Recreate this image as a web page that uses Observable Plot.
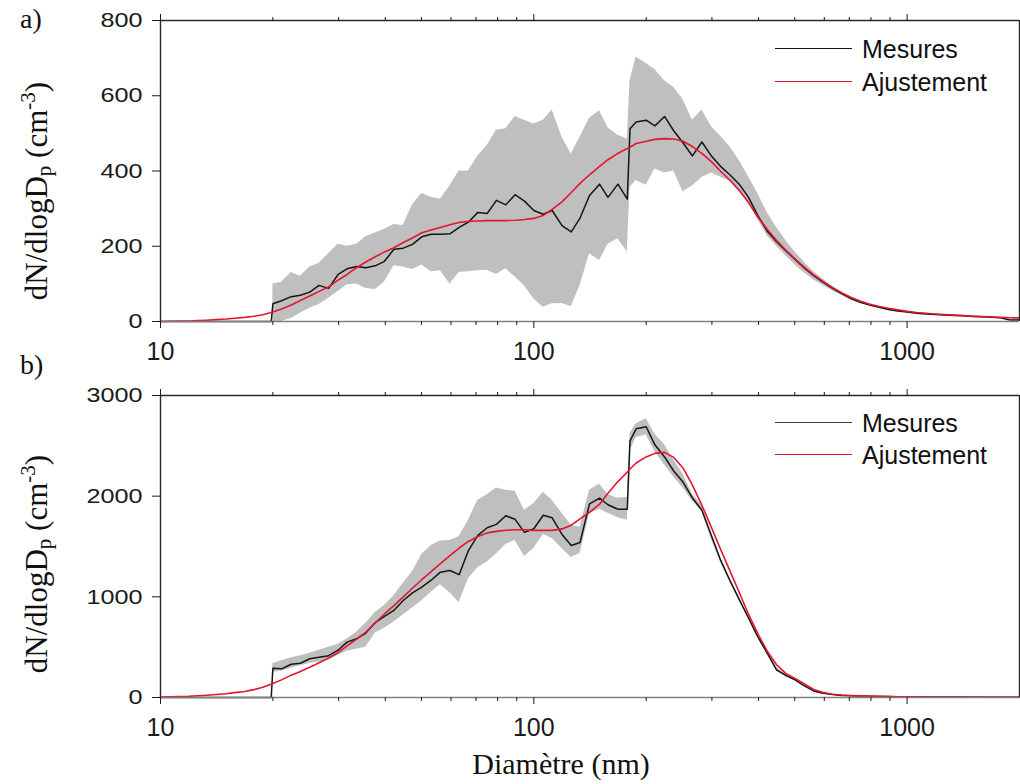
<!DOCTYPE html>
<html><head><meta charset="utf-8">
<script src="https://cdn.jsdelivr.net/npm/d3@7"></script>
<script src="https://cdn.jsdelivr.net/npm/@observablehq/plot@0.6"></script>
<style>
body{margin:0;background:#fff;}
#wrap{position:relative;width:1020px;height:784px;overflow:hidden;background:#fff;}
#wrap svg{position:absolute;left:0;}
.serif{position:absolute;font-family:"Liberation Serif","Times New Roman",serif;color:#111;white-space:nowrap;line-height:1;}
.ylab{font-size:31px;transform:translate(-50%,-50%) rotate(-90deg);}
.ylab sub{font-size:0.68em;vertical-align:-0.22em;line-height:0;}
.ylab sup{font-size:0.68em;vertical-align:0.55em;line-height:0;}
.leg{position:absolute;font-family:"Liberation Sans",Arial,sans-serif;font-size:25px;line-height:1;color:#111;white-space:nowrap;}
.sw{position:absolute;height:0;width:77px;}
</style></head>
<body><div id="wrap"></div>
<script>
// ---------- data ----------
// diameters (nm) of the measured grid
const diam = [20.0,21.1,22.4,23.7,25.1,26.6,28.2,29.9,31.6,33.5,35.5,37.6,39.8,42.2,44.7,47.3,50.1,53.1,56.2,59.6,63.1,66.8,70.8,75.0,79.4,84.1,89.1,94.4,
  100,106,112,119,126,133,141,150,158,168,178,181,188,200,211,224,237,251,266,282,299,316,335,355,376,398,422,447,473,501,531,562,596,631,668,708,750,794,841,891,944,
  1000,1059,1122,1189,1259,1334,1413,1496,1585,1679,1778,1884,1995];
// below the instrument range
const measLowDiam = [10, 19.8];
const measLowVal = [0, 0];
const fitLowDiam = [10,10.6,11.2,11.9,12.6,13.3,14.1,15.0,15.8,16.8,17.8,18.8];

// panel a
const measA = [47,55,66,70,78,96,88,125,140,146,143,148,160,192,195,205,225,232,232,233,250,264,290,287,322,310,337,320,295,285,295,255,238,275,335,365,330,365,325,
  512,530,535,520,545,507,475,440,477,440,413,390,365,330,282,240,212,188,165,142,122,104,88,74,61,51,44,38,32,28,25,22,20,18.5,17,16,15,13.5,12.5,11,10,4,4];
const hiA = [100,104,130,120,145,155,180,205,200,205,225,235,245,258,255,310,340,330,325,360,400,400,440,468,508,512,545,535,525,535,562,490,445,490,540,560,515,495,485,
  640,703,686,670,640,622,590,535,562,518,493,465,428,385,340,290,250,215,185,157,132,112,94,79,66,55,47,41,35,31,27,24,22,20,18.5,17.5,16.5,15,14,12.5,11.5,5,5];
const loA = [0,0,8,22,35,45,62,80,98,100,88,85,105,148,145,138,150,132,135,100,130,132,135,136,125,140,118,95,60,38,47,48,40,95,180,162,205,220,185,
  357,375,362,405,395,400,345,360,383,395,384,372,345,314,272,228,200,175,150,129,110,96,82,69,56,47,41,35,29,25,23,20,18,17,15.5,14.5,13.5,12,11,9.5,8.5,3,3];
const fitLowA = [0,0.5,1,1.5,2.5,3.5,5,6.5,8.5,11,14,18];
const fitA = [25,33,44,56,68,80,92,110,125,143,158,172,185,196,210,222,236,243,250,257,263,266,267,268,268,268,269,271,274,282,298,318,343,367,390,412,430,447,460,
  463,473,479,484,486,485,479,465,447,425,400,376,349,316,278,245,215,190,166,144,124,106,90,76,64,54,46,40,35,31,27,24,22,20,18.5,17,15.5,14,13,12,11,10,9.5];

// panel b
const measB = [290,285,330,340,385,400,415,470,550,583,640,745,805,866,964,1040,1096,1165,1245,1262,1220,1460,1610,1686,1720,1805,1770,1640,1676,1810,1785,1620,1510,1540,1924,1980,1915,1870,1870,
  2550,2669,2690,2510,2390,2250,2140,1982,1860,1610,1370,1165,975,790,605,440,275,220,175,115,65,42,30,21,18,15,12,10,9,8,7,6,5.5,5,4.5,4,4,3.5,3.5,3,3,3,3];
const hiB = [335,365,395,415,440,470,500,528,580,648,740,845,915,1010,1135,1250,1420,1510,1555,1560,1600,1760,1960,2015,2080,2060,2050,1860,1924,2040,1960,1830,1710,1692,2060,2120,2015,1980,1990,
  2620,2720,2770,2615,2510,2360,2220,2020,1910,1630,1390,1185,990,805,625,455,295,235,185,125,72,50,34,25,21,17,14,12,11,10,9,8,7.5,7,6.5,6,6,5.5,5.5,5,5,5,5];
const loB = [250,262,290,315,338,352,370,420,460,480,500,640,688,750,820,890,960,1045,1120,1040,940,1180,1290,1345,1425,1520,1560,1400,1480,1620,1580,1480,1390,1430,1825,1870,1830,1785,1760,
  2450,2580,2610,2440,2310,2190,2080,1950,1850,1570,1350,1145,960,775,590,425,260,205,165,105,58,36,26,18,15,13,10,8,7,6,5,4,3.5,3,2.5,2,2,1.5,1.5,1,1,1,1];
const fitLowB = [4,6,9,12,17,23,30,38,48,60,78,102];
const fitB = [140,175,222,258,300,345,392,445,512,580,650,740,830,912,1000,1085,1170,1250,1330,1410,1485,1550,1600,1635,1650,1662,1666,1666,1660,1660,1660,1675,1712,1775,1840,1920,2030,2145,2240,
  2270,2330,2390,2425,2435,2385,2280,2110,1910,1690,1478,1260,1045,825,635,460,325,240,190,135,80,50,33,25,20,16,13,11,9,8,7,6,5.5,5,4.5,4,4,3.5,3.5,3,3,3,3];

const majorTicks = [10, 100, 1000];
const minorTicks = [20,30,40,50,60,70,80,90,200,300,400,500,600,700,800,900];
const yTicksA = [0, 200, 400, 600, 800];
const yTicksB = [0, 1000, 2000, 3000];
const legendLabels = ["Mesures", "Ajustement"];
const xTitle = "Diamètre (nm)";

// ---------- chart ----------
function panel({yMax, yTicks, meas, hi, lo, fitLow, fit, height, marginTop, marginBottom}) {
  const measData = measLowDiam.map((d, i) => ({d, v: measLowVal[i]}))
    .concat(diam.map((d, i) => ({d, v: meas[i]})));
  const fitData = fitLowDiam.map((d, i) => ({d, v: fitLow[i]}))
    .concat(diam.map((d, i) => ({d, v: fit[i]})));
  const band = diam.map((d, i) => ({d, lo: lo[i], hi: hi[i]}));
  const frame = "#2a2a2a";
  const svg = Plot.plot({
    width: 1020, height, marginTop, marginBottom, marginLeft: 160, marginRight: 1,
    style: {fontFamily: "'Liberation Sans', Arial, sans-serif", fontSize: "25px", background: "transparent", color: "#1a1a1a", overflow: "visible"},
    x: {type: "log", domain: [10, 2000]},
    y: {domain: [0, yMax]},
    marks: [
      Plot.areaY(band, {x: "d", y1: "lo", y2: "hi", fill: "#bfbfbf"}),
      Plot.line(measData, {x: "d", y: "v", stroke: "#151515", strokeWidth: 1.5}),
      Plot.line(fitData, {x: "d", y: "v", stroke: "#e3152f", strokeWidth: 1.6}),
      Plot.ruleY([0], {stroke: "#808080", strokeWidth: 1.4}),
      Plot.ruleY([yMax], {stroke: frame, strokeWidth: 1.4}),
      Plot.ruleX([10], {stroke: frame, strokeWidth: 1.4}),
      Plot.ruleX([2000], {stroke: frame, strokeWidth: 1.4}),
      Plot.axisX(majorTicks, {anchor: "bottom", tickSize: 7, tickPadding: 14, tickFormat: d => String(d), fontSize: 25, label: null}),
      Plot.axisX(minorTicks, {anchor: "bottom", tickSize: 4, tickFormat: () => "", label: null}),
      Plot.axisX(majorTicks, {anchor: "top", tickSize: 7, tickFormat: () => "", label: null}),
      Plot.axisX(minorTicks, {anchor: "top", tickSize: 4, tickFormat: () => "", label: null}),
      Plot.axisY(yTicks, {anchor: "left", tickSize: 8, tickPadding: 10, tickFormat: d => String(d), fontSize: 21, label: null})
    ]
  });
  // widen y tick labels horizontally like the reference
  svg.querySelectorAll('g[aria-label="y-axis tick label"] text').forEach(t => {
    const tr = t.getAttribute("transform") || "";
    t.setAttribute("transform", tr + " scale(1.2,1)");
  });
  return svg;
}

const wrap = document.getElementById("wrap");
const a = panel({yMax: 800, yTicks: yTicksA, meas: measA, hi: hiA, lo: loA, fitLow: fitLowA, fit: fitA, height: 370, marginTop: 20, marginBottom: 49});
a.style.top = "0px";
wrap.appendChild(a);
const b = panel({yMax: 3000, yTicks: yTicksB, meas: measB, hi: hiB, lo: loB, fitLow: fitLowB, fit: fitB, height: 414, marginTop: 25, marginBottom: 87});
b.style.top = "370px";
wrap.appendChild(b);

// ---------- text overlays ----------
function addDiv(cls, html, css) {
  const el = document.createElement("div");
  el.className = cls;
  el.innerHTML = html;
  Object.assign(el.style, css);
  wrap.appendChild(el);
  return el;
}
addDiv("serif", "a)", {left: "20px", top: "5px", fontSize: "28px"});
addDiv("serif", "b)", {left: "20px", top: "351px", fontSize: "28px"});
const yTitle = "dN/dlogD<sub>p</sub> (cm<sup>-3</sup>)";
addDiv("serif ylab", yTitle, {left: "36px", top: "191px"});
addDiv("serif ylab", yTitle, {left: "36px", top: "564px"});
addDiv("serif", xTitle, {left: "561px", top: "749px", fontSize: "30px", transform: "translateX(-50%)"});

function legend(yMes, yAdj, mesColor) {
  addDiv("sw", "", {left: "775px", top: (yMes - 0.8) + "px", borderTop: "1.6px solid " + mesColor});
  addDiv("sw", "", {left: "775px", top: (yAdj - 0.8) + "px", borderTop: "1.6px solid #e3152f"});
  addDiv("leg", legendLabels[0], {left: "862px", top: (yMes - 12.3) + "px"});
  addDiv("leg", legendLabels[1], {left: "862px", top: (yAdj - 12.3) + "px"});
}
legend(49, 82, "#151515");
legend(423, 455, "#3a3a3a");
</script>
</body></html>
